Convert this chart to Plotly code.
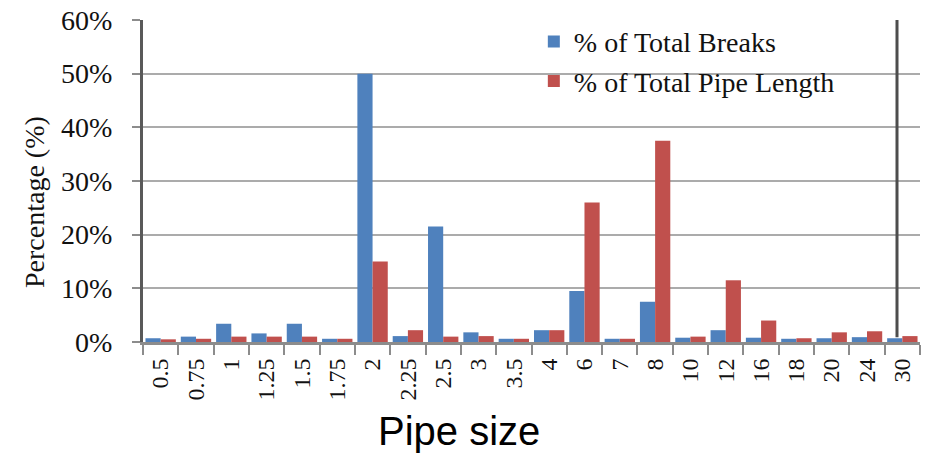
import plotly.graph_objects as go

# Pipe diameters (inches) used as the category axis
pipe_sizes = ["0.5", "0.75", "1", "1.25", "1.5", "1.75", "2", "2.25", "2.5", "3", "3.5",
              "4", "6", "7", "8", "10", "12", "16", "18", "20", "24", "30"]

# Share of all recorded breaks per pipe size (%)
pct_breaks = [0.7, 1.0, 3.4, 1.6, 3.4, 0.6, 50.0, 1.1, 21.5, 1.8, 0.6,
              2.2, 9.5, 0.6, 7.5, 0.8, 2.2, 0.8, 0.6, 0.7, 0.9, 0.7]

# Share of total network pipe length per pipe size (%)
pct_length = [0.5, 0.6, 1.0, 1.0, 1.0, 0.6, 15.0, 2.2, 1.0, 1.1, 0.6,
              2.2, 26.0, 0.6, 37.5, 1.0, 11.5, 4.0, 0.7, 1.8, 2.0, 1.1]

y_ticks = [0, 10, 20, 30, 40, 50, 60]
y_tick_labels = [f"{v}%" for v in y_ticks]

SERIF = "Liberation Serif, Times New Roman, serif"
SANS = "Liberation Sans, Arial, sans-serif"

fig = go.Figure()
fig.add_trace(go.Bar(x=pipe_sizes, y=pct_breaks, name="% of Total Breaks",
                     marker=dict(color="#4F81BD", line=dict(width=0))))
fig.add_trace(go.Bar(x=pipe_sizes, y=pct_length, name="% of Total Pipe Length",
                     marker=dict(color="#C0504D", line=dict(width=0))))

L, R, T, B = 143, 6, 20, 113
PW, PH = 926 - L - R, 455 - T - B

fig.update_layout(
    width=926, height=455,
    margin=dict(l=L, r=R, t=T, b=B),
    paper_bgcolor="white", plot_bgcolor="white",
    barmode="group", bargap=0.14, bargroupgap=0.0,
    showlegend=True,
    legend=dict(x=0.503, y=1.01, xanchor="left", yanchor="top",
                bgcolor="rgba(0,0,0,0)", font=dict(family=SERIF, size=28, color="#111"),
                tracegroupgap=0, itemsizing="constant"),
    xaxis=dict(type="category", tickangle=-90, tickson="boundaries",
               ticks="outside", ticklen=10, tickwidth=2, tickcolor="#8c8c8c",
               showline=True, linecolor="#8c8c8c", linewidth=3,
               showgrid=False, tickfont=dict(family=SERIF, size=24, color="#111"),
               ticklabelstandoff=4),
    yaxis=dict(range=[0, 60], tickmode="array", tickvals=y_ticks, ticktext=y_tick_labels,
               ticks="outside", ticklen=8, tickwidth=2, tickcolor="#8c8c8c",
               showline=True, linecolor="#595959", linewidth=3,
               showgrid=True, gridcolor="#ababab", gridwidth=2, zeroline=False,
               tickfont=dict(family=SERIF, size=28, color="#111"),
               ticklabelstandoff=14),
    font=dict(family=SERIF, color="#111"),
)

# Right wall of the chart box: mask gridlines past it and draw its edge
wall_x = (897 - L) / PW
fig.add_shape(type="rect", xref="paper", yref="paper", x0=wall_x + 0.002, x1=1.0,
              y0=0.01, y1=1.0, fillcolor="white", line=dict(width=0), layer="between")
fig.add_shape(type="line", xref="paper", yref="paper", x0=wall_x, x1=wall_x,
              y0=0.015, y1=1.0, line=dict(color="#4d4d4d", width=3), layer="above")

# Axis titles
fig.add_annotation(text="Pipe size", xref="paper", yref="paper",
                   x=(459 - L) / PW, y=(342 - 431) / PH,
                   xanchor="center", yanchor="middle", showarrow=False,
                   font=dict(family=SANS, size=40, color="#000"))
fig.add_annotation(text="Percentage (%)", xref="paper", yref="paper",
                   x=(34 - L) / PW, y=(342 - 202) / PH,
                   xanchor="center", yanchor="middle", textangle=-90, showarrow=False,
                   font=dict(family=SERIF, size=28, color="#111"))

fig.write_html("out.html")
